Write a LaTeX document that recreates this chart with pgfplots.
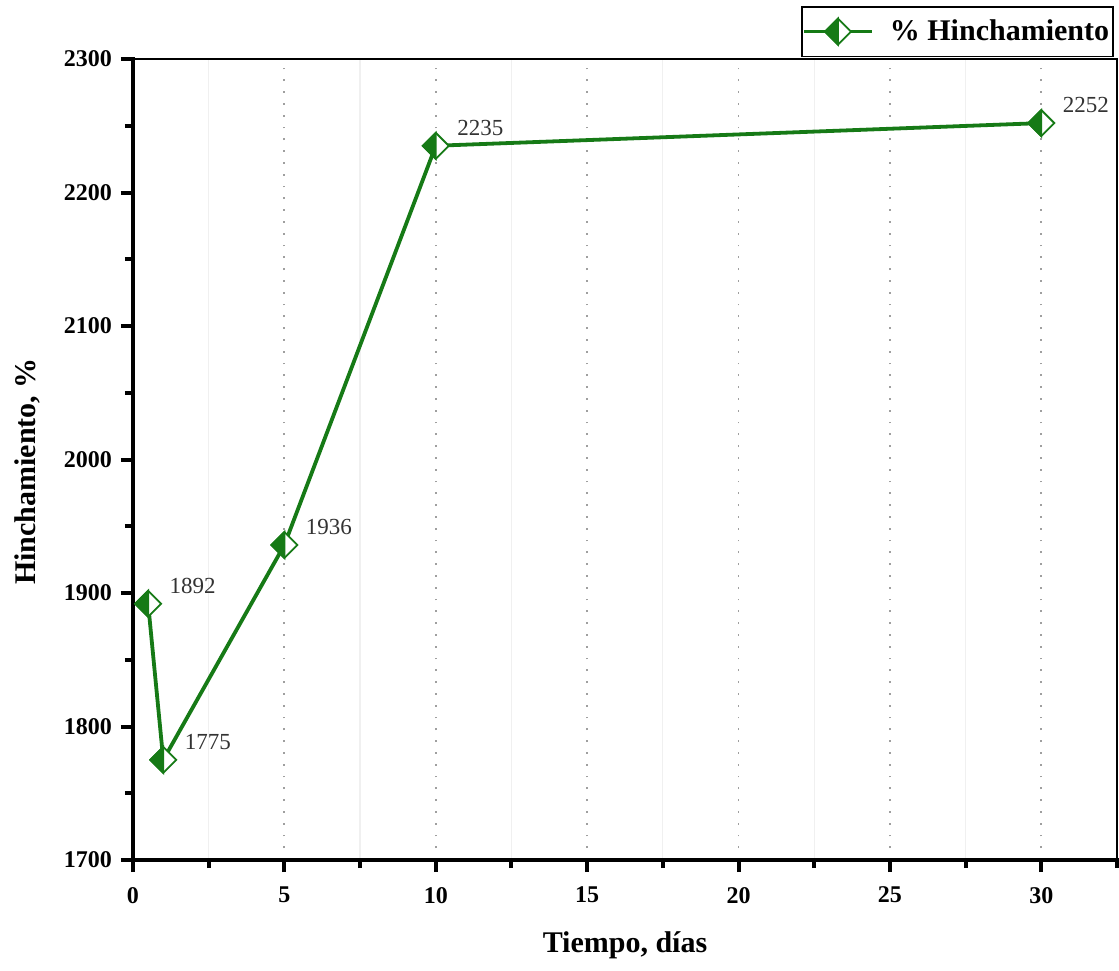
\documentclass[border=0pt]{standalone}
\usepackage{fontspec}
\setmainfont{Liberation Serif}
\usepackage{pgfplots}
\pgfplotsset{compat=1.18}
\definecolor{hgreen}{RGB}{22,122,22}
\pgfdeclareplotmark{hdiamond}{%
  \pgfpathmoveto{\pgfqpoint{0pt}{\pgfplotmarksize}}%
  \pgfpathlineto{\pgfqpoint{\pgfplotmarksize}{0pt}}%
  \pgfpathlineto{\pgfqpoint{0pt}{-\pgfplotmarksize}}%
  \pgfpathlineto{\pgfqpoint{-\pgfplotmarksize}{0pt}}%
  \pgfpathclose
  \pgfsetfillcolor{white}\pgfusepathqfillstroke
  \pgfpathmoveto{\pgfqpoint{0pt}{\pgfplotmarksize}}%
  \pgfpathlineto{\pgfqpoint{0pt}{-\pgfplotmarksize}}%
  \pgfpathlineto{\pgfqpoint{-\pgfplotmarksize}{0pt}}%
  \pgfpathclose
  \pgfsetfillcolor{hgreen}\pgfusepathqfillstroke
}
\begin{document}
\begin{tikzpicture}
\begin{axis}[
  scale only axis, width=492pt, height=400.5pt,
  xmin=0, xmax=32.5, ymin=1700, ymax=2300,
  xtick={0,5,...,30}, minor xtick={2.5,7.5,...,32.5},
  ytick={1700,1800,...,2300}, minor ytick={1750,1850,...,2250},
  tick align=outside, xtick pos=bottom, ytick pos=left,
  major tick length=6pt, minor tick length=4pt,
  every tick/.style={black, line width=2pt},
  xmajorgrids, xminorgrids,
  major grid style={gray!75, line width=0.9pt, dash pattern=on 0.9pt off 5pt},
  minor grid style={gray!12, line width=0.6pt},
  axis line style={line width=0.8pt},
  clip=false,
  /pgf/number format/assume math mode=true,
  /pgf/number format/1000 sep={},
  ticklabel style={font=\bfseries\fontsize{12}{12}\selectfont},
  xticklabel style={yshift=-4pt},
  yticklabel style={xshift=-1pt},
  every axis x label/.style={at={(axis description cs:0.5,-0.107)}, anchor=center, font=\bfseries\fontsize{15}{15}\selectfont},
  every axis y label/.style={at={(axis description cs:-0.1077,0.485)}, rotate=90, anchor=center, font=\bfseries\fontsize{15}{15}\selectfont},
  xlabel={Tiempo, días},
  ylabel={Hinchamiento, \%},
  legend style={at={(axis description cs:1,1)}, anchor=south east, xshift=-1.5pt, yshift=0.8pt,
    draw=black, line width=0.9pt, inner xsep=0pt, inner ysep=4.5pt,
    font=\bfseries\fontsize{15}{15}\selectfont},
  legend image code/.code={\draw[mark repeat=2,mark phase=2,#1] plot coordinates {(0pt,0pt) (17pt,0pt) (34pt,0pt)};},
  legend cell align=left,
]
\addplot[hgreen, line width=1.9pt, mark=hdiamond, mark size=6.5pt,
  mark options={line width=0.9pt, solid},
  nodes near coords={\pgfmathprintnumber[fixed,precision=0]{\pgfplotspointmeta}},
  every node near coord/.style={anchor=west, xshift=7pt, yshift=9pt, black!80, font=\fontsize{11.5}{11.5}\selectfont}]
  coordinates {(0.5,1892) (1,1775) (5,1936) (10,2235) (30,2252)};
\addlegendentry{\hspace{6pt}\% Hinchamiento}
\draw[line width=2pt, line cap=rect] (rel axis cs:0,1) -- (rel axis cs:0,0) -- (rel axis cs:1,0);
\end{axis}
\pgfresetboundingbox
\useasboundingbox (-66.5pt,-55pt) rectangle (493pt,430pt);
\end{tikzpicture}
\end{document}
